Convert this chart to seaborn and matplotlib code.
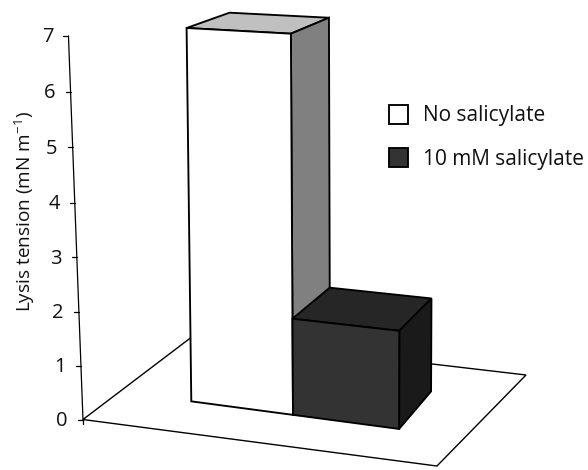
import numpy as np
import pandas as pd
import matplotlib
matplotlib.use('Agg')
import matplotlib.pyplot as plt
import matplotlib.transforms as mtransforms
from matplotlib.patches import Patch
import seaborn as sns

# Chart values
conditions = ['No salicylate', '10 mM salicylate']
lysis_tension = [7.0, 1.8]
tick_values = [0, 1, 2, 3, 4, 5, 6, 7]
y_label = 'Lysis tension (mN m$^{-1}$)'

front_colors = ['#ffffff', '#333333']
top_colors = ['#c0c0c0', '#262626']
side_colors = ['#808080', '#1a1a1a']

# Camera: (category, value, depth) -> pixel
CAMERA = np.array([[96.575789, -1.361796, 55.16883, 241.602731],
                   [4.885402, -54.003436, -14.349248, 408.037114],
                   [-0.02112, -0.003663, 0.05622, 1.0]])

# Floor corners and value axis in chart space (category, depth)
FLOOR = [(-1.229, -0.748), (2.045, -0.687), (2.228, 1.738), (-1.24, 1.72)]
AXIS_LEAN = -0.0095


def project(x, y, z):
    h = CAMERA @ np.array([x, y, z, 1.0])
    return h[0] / h[2], h[1] / h[2]


class FrontPlane(mtransforms.Transform):
    """Puts (category, value) on the front face of the bars."""
    input_dims = 2
    output_dims = 2

    def transform_non_affine(self, values):
        return np.array([project(x, y, 0.0) for x, y in values])


sns.set_theme(style='white')
plt.rcParams['font.family'] = ['Open Sans', 'DejaVu Sans']
plt.rcParams['mathtext.fontset'] = 'custom'
plt.rcParams['mathtext.rm'] = 'Open Sans'
plt.rcParams['mathtext.default'] = 'regular'

fig = plt.figure(figsize=(5.88, 4.7), dpi=100)
ax = fig.add_axes([0, 0, 1, 1])

df = pd.DataFrame({'condition': conditions, 'tension': lysis_tension})
sns.barplot(data=df, x='condition', y='tension', hue='condition', palette=front_colors,
            width=1.0, gap=0, saturation=1, dodge=False, legend=False,
            edgecolor='black', linewidth=1.35, ax=ax)

ax.set_xlim(0, 588)
ax.set_ylim(470, 0)
ax.axis('off')

front = FrontPlane() + ax.transData
for i, bar in enumerate(ax.patches):
    bar.set_transform(front)
    bar.set_clip_on(False)
    bar.set_zorder(4 + 2 * i)

# floor
floor_pts = [project(x, 0, z) for x, z in FLOOR]
ax.fill(*zip(*floor_pts), facecolor='white', edgecolor='black', linewidth=1.0, zorder=1)

# bar tops and sides
for i, value in enumerate(lysis_tension):
    x0, x1 = i - 0.5, i + 0.5
    top = [project(x0, value, 0), project(x1, value, 0), project(x1, value, 1), project(x0, value, 1)]
    side = [project(x1, 0, 0), project(x1, value, 0), project(x1, value, 1), project(x1, 0, 1)]
    ax.fill(*zip(*top), facecolor=top_colors[i], edgecolor='black', linewidth=1.35, zorder=3 + 2 * i)
    ax.fill(*zip(*side), facecolor=side_colors[i], edgecolor='black', linewidth=1.35, zorder=3 + 2 * i)

# value axis
ax_x, ax_z = FLOOR[0]
axis_pts = [project(ax_x + AXIS_LEAN * v, v, ax_z) for v in tick_values]
ax.plot(*zip(*axis_pts), color='black', lw=0.9, zorder=2)
for v, (px, py) in zip(tick_values, axis_pts):
    ax.plot([px - 5, px], [py, py], color='black', lw=0.9, zorder=2)
    ax.text(px - 15, py - 1, str(v), ha='right', va='center_baseline', fontsize=14.5, color='#111111')
# small tick under the corner of the floor
corner = project(ax_x, 0, ax_z)
ax.plot([corner[0], corner[0]], [corner[1], corner[1] + 4], color='black', lw=0.9, zorder=2)

ax.text(25, 212, y_label, rotation=90, ha='center', va='center', fontsize=13.7, color='#111111')

handles = [Patch(facecolor=c, edgecolor='black', linewidth=1.35) for c in front_colors]
ax.legend(handles, conditions, loc='upper left', bbox_to_anchor=(389 / 588, 1 - 105 / 470),
          bbox_transform=fig.transFigure, frameon=False, fontsize=15, labelcolor='#111111',
          handlelength=0.9, handleheight=1.0, handletextpad=0.72, labelspacing=1.05,
          borderpad=0, borderaxespad=0)

fig.savefig('out.png', dpi=100)
